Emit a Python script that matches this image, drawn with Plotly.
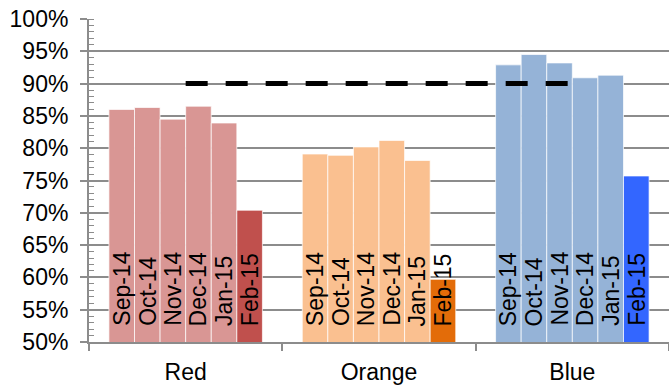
import plotly.graph_objects as go

categories = ["Red", "Orange", "Blue"]
months = ["Sep-14", "Oct-14", "Nov-14", "Dec-14", "Jan-15", "Feb-15"]
# values per month, ordered as categories (Red, Orange, Blue)
sep14 = [86.0, 79.1, 92.9]
oct14 = [86.3, 78.9, 94.5]
nov14 = [84.5, 80.2, 93.2]
dec14 = [86.5, 81.2, 90.9]
jan15 = [83.9, 78.1, 91.3]
feb15 = [70.4, 59.7, 75.7]
target = [90, 90, 90]

series = [sep14, oct14, nov14, dec14, jan15, feb15]
light = ["#D99694", "#FAC090", "#95B3D7"]
dark = ["#C0504D", "#E36C09", "#3366FF"]

FONT = "Liberation Sans, Arial, sans-serif"
gap = 0.206
n = len(months)
w = (1 - gap) / n
cat_idx = list(range(len(categories)))

fig = go.Figure()
annotations = []
for j, (m, vals) in enumerate(zip(months, series)):
    colors = dark if j == n - 1 else light
    xs = [i + (j - (n - 1) / 2) * w for i in cat_idx]
    fig.add_trace(go.Bar(
        x=xs, y=vals, width=w, name=m,
        marker=dict(color=colors, line=dict(color="rgba(255,255,255,0.7)", width=1)),
        showlegend=False, hoverinfo="y",
    ))
    for x in xs:
        annotations.append(dict(
            x=x, y=50, xref="x", yref="y", text=m, textangle=-90,
            showarrow=False, xanchor="center", yanchor="bottom", yshift=14,
            font=dict(family=FONT, size=23, color="black"),
        ))

fig.add_trace(go.Scatter(
    x=cat_idx, y=target, mode="lines",
    line=dict(color="black", width=5, dash="22px,18px"),
    showlegend=False,
))

fig.update_layout(
    width=669, height=386,
    margin=dict(l=89, r=0, t=19, b=44, autoexpand=False),
    paper_bgcolor="white", plot_bgcolor="white",
    barmode="overlay",
    font=dict(family=FONT, size=23, color="black"),
    annotations=annotations,
    xaxis=dict(
        range=[-0.5, len(categories) - 0.5],
        tickmode="array", tickvals=cat_idx, ticktext=categories,
        ticks="", showline=True, linecolor="#8C8C8C", linewidth=2,
        showgrid=False, zeroline=False, automargin=False,
        ticklabelstandoff=8,
        minor=dict(ticks="outside", tick0=0.5, dtick=1, ticklen=7,
                   tickcolor="#8C8C8C", tickwidth=2, showgrid=False),
        tickfont=dict(size=23),
    ),
    yaxis=dict(
        range=[50, 100], dtick=5, ticksuffix="%",
        showline=True, linecolor="#8C8C8C", linewidth=2,
        ticks="outside", ticklen=7, tickcolor="#8C8C8C", tickwidth=2,
        showgrid=True, gridcolor="#8C8C8C", gridwidth=2,
        minor=dict(ticks="inside", dtick=1, ticklen=5, tickcolor="#8C8C8C", tickwidth=1, showgrid=False),
        tickfont=dict(size=23), zeroline=False, automargin=False,
        ticklabelstandoff=7,
    ),
)

fig.write_html(
    "out.html",
    config={"displayModeBar": False},
    post_script="document.body.style.margin='0';document.body.style.overflow='hidden';",
)
